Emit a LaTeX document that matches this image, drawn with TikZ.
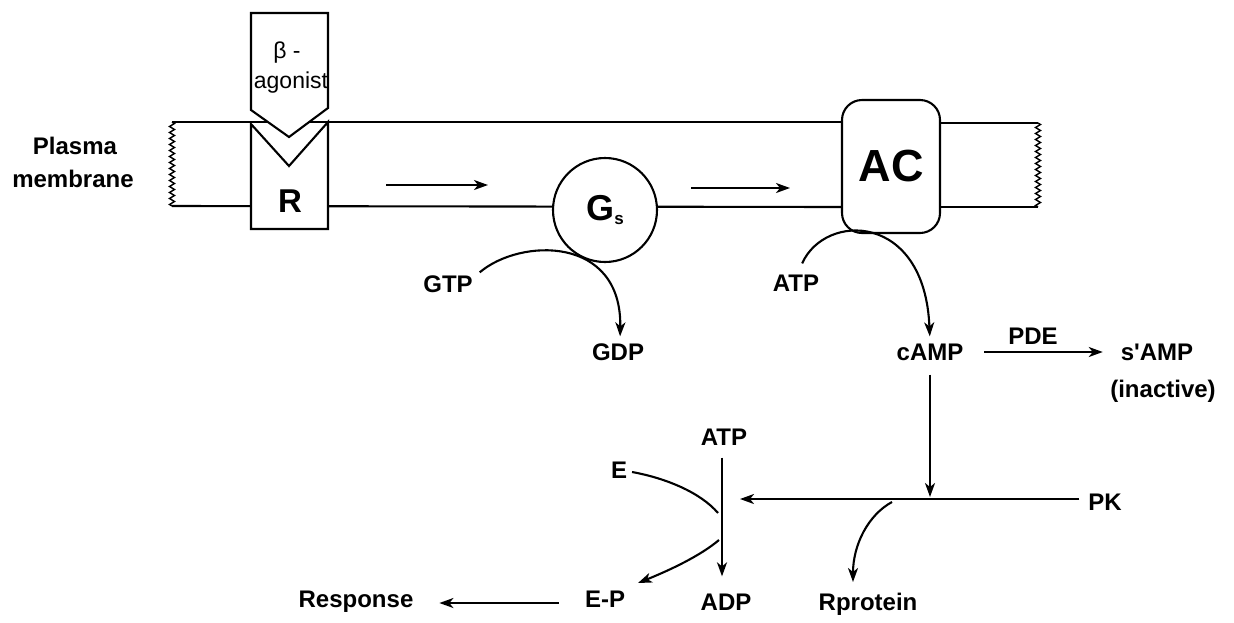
\documentclass[tikz,border=0pt]{standalone}
\usepackage{fontspec}
\setmainfont{Liberation Sans}
\usetikzlibrary{arrows.meta,decorations.pathmorphing}
\begin{document}
\begin{tikzpicture}[x=1pt,y=-1pt, line width=2.1pt,
  lab/.style={inner sep=0pt, font=\fontsize{24}{27}\selectfont\bfseries, text height=17.2pt, text depth=0pt},
  arr/.style={-{Stealth[length=14pt,width=10pt,inset=4pt]}},
  wavy/.style={decorate, decoration={zigzag,amplitude=2.5pt,segment length=6pt}, line width=1.4pt},
  boxw/.style={draw, fill=white}
]
\useasboundingbox (0,0) rectangle (1234,622);
% membrane
\draw[wavy] (172,122) -- (172,206);
\draw (172,122) -- (842,122);
\draw (172,206) -- (842,207);
\draw (940,123) -- (1038,123);
\draw (940,207) -- (1038,207);
\draw[wavy] (1038,123) -- (1038,207);
% receptor and agonist
\draw[boxw] (251,124) -- (289,166) -- (328,122) -- (328,229) -- (251,229) -- cycle;
\draw[boxw] (251,13) -- (328,13) -- (328,108) -- (289,137) -- (251,110) -- cycle;
\node[inner sep=0pt, font=\fontsize{23}{24}\selectfont] (beta) at (287,53) {β -};
\node[inner sep=0pt, font=\fontsize{23}{24}\selectfont] (ag) at (291,83) {agonist};
\node[inner sep=0pt, font=\fontsize{33}{34}\selectfont\bfseries] (R) at (290,201) {R};
% Gs
\node[circle, boxw, minimum size=104pt, inner sep=0pt, font=\fontsize{36}{38}\selectfont\bfseries] (gs) at (605,210) {G\raisebox{-4pt}{\fontsize{17}{17}\selectfont s}};
% AC
\node[boxw, rounded corners=20pt, minimum width=98pt, minimum height=133pt, inner sep=0pt, font=\fontsize{45}{48}\selectfont\bfseries] (ac) at (891,166.5) {AC};
% membrane arrows
\coordinate (m1a) at (386,185); \coordinate (m1b) at (488,185);
\coordinate (m2a) at (691,188); \coordinate (m2b) at (790,188);
\draw[arr] (m1a) -- (m1b);
\draw[arr] (m2a) -- (m2b);
% labels
\node[lab] (pl1) at (75,146) {Plasma};
\node[lab] (pl2) at (73,179) {membrane};
\node[lab] (gtp) at (448,284) {GTP};
\node[lab] (gdp) at (618,352) {GDP};
\node[lab] (atp1) at (796,283) {ATP};
\node[lab] (camp) at (930,352) {cAMP};
\node[lab] (pde) at (1033,336) {PDE};
\node[lab] (samp) at (1157,352) {s\textquotesingle AMP};
\node[lab] (inact) at (1163,389) {(inactive)};
\node[lab] (atp2) at (724,437) {ATP};
\node[lab] (e) at (619,470) {E};
\node[lab] (pk) at (1105,502) {PK};
\node[lab] (ep) at (605,599) {E-P};
\node[lab] (adp) at (726,602) {ADP};
\node[lab] (rprot) at (868,602) {Rprotein};
\node[lab] (resp) at (356,599) {Response};
% connectors
\draw[arr, shorten >=6pt] ([shift={(6,-2)}]gtp.north east) .. controls (520,238) and (622,235) .. (gdp.north -| 620,0);
\draw[arr, shorten >=6pt] ([shift={(-18,-10)}]atp1.north east) .. controls (825,212) and (925,212) .. (camp.north);
\draw[arr] ([xshift=20pt]camp.east) -- ([xshift=-17pt]samp.west);
\coordinate (j1) at (930,500);
\coordinate (vjoin) at (722,499);
\draw[arr, shorten <=13pt, shorten >=3pt] (camp.south) -- (j1);
\draw[arr, shorten <=8pt, shorten >=18pt] (pk.west |- vjoin) -- (vjoin);
\coordinate (rp0) at (892,502);
\coordinate (rp1) at (853,582);
\draw[arr] (rp0) .. controls (868,515) and (853,545) .. (rp1);
\draw[arr, shorten <=11pt, shorten >=16pt] (atp2.south -| vjoin) -- (adp.north -| vjoin);
\coordinate (ej) at (718,513);
\coordinate (epj) at (719,540);
\coordinate (ept) at (638,583);
\draw ([shift={(4,2)}]e.east) .. controls (665,478) and (700,492) .. (ej);
\draw[arr] (epj) .. controls (700,556) and (670,570) .. (ept);
\draw[arr, shorten <=25pt, shorten >=25pt] (ep.west |- 0,603) -- (resp.east |- 0,603);
\end{tikzpicture}
\end{document}
